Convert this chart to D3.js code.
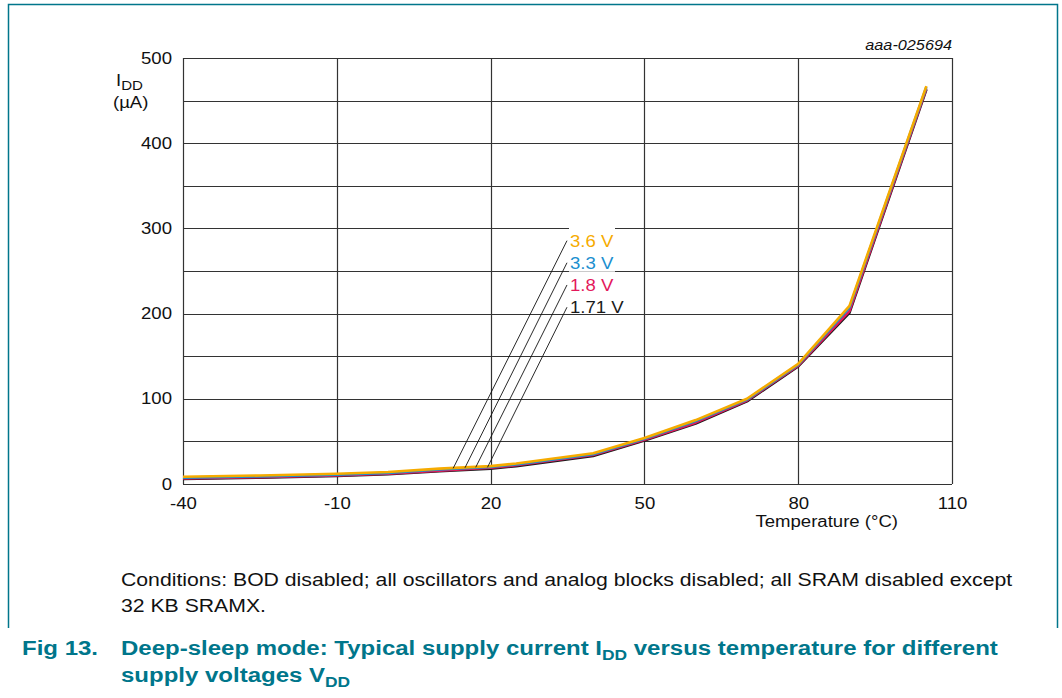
<!DOCTYPE html>
<html>
<head>
<meta charset="utf-8">
<script src="https://cdn.jsdelivr.net/npm/d3@7"></script>
<style>
  body { margin: 0; background: #fff; }
  svg text { font-family: "Liberation Sans", Arial, sans-serif; }
</style>
</head>
<body>
<svg id="main-svg" width="1062" height="698"></svg>
<script>
// temperature breakpoints (°C)
var temps = [-40, -25, -10, 0, 10, 20, 25, 40, 50, 60, 70, 80, 90, 105];

// IDD (uA) per supply voltage
var idd171 = [6, 7.5, 9.5, 11.5, 15, 18, 21, 33, 51, 71, 97, 138, 201, 463];
var idd18  = [6.5, 8, 10, 12, 15.5, 19, 22, 34, 52, 72, 98, 139, 203, 464];
var idd33  = [7.5, 9, 11, 13, 17, 20, 23, 35, 53, 74, 99, 140, 207, 466];
var idd36  = [8.5, 10, 12, 14, 18, 21, 24, 36, 54, 75, 100, 141, 209, 467];

var seriesNames = ['1.71 V', '1.8 V', '3.3 V', '3.6 V'];
var seriesColors = ['#1a1a1a', '#e3185b', '#1b8fcf', '#f6ab00'];

var xTicks = [-40, -10, 20, 50, 80, 110];
var yTicks = [0, 100, 200, 300, 400, 500];
var yGrid = [0, 50, 100, 150, 200, 250, 300, 350, 400, 450, 500];

// leader lines: [label end temp, label end value, curve temp, curve value]
var leaders = [
    [34.9, 207.5, 19.4, 19.6],
    [34.9, 233.6, 17.1, 19.6],
    [34.9, 259.7, 15.0, 19.0],
    [34.9, 285.6, 12.7, 18.4]
];

var svg = d3.select('#main-svg');
var teal = '#00768b';
var STRETCH = 1.16; // the original lettering is a bit wider than Arial

// widen a text element horizontally, keeping its anchor
function widen(sel, k) {
    sel.each(function() {
        var w = this.getComputedTextLength();
        d3.select(this).attr('textLength', w * (k || STRETCH))
            .attr('lengthAdjust', 'spacingAndGlyphs');
    });
    return sel;
}

var x = d3.scaleLinear().domain([-40, 110]).range([183, 952]);
var y = d3.scaleLinear().domain([0, 500]).range([484, 58]);

// outer frame
svg.append('path')
    .attr('d', 'M8.5,628 L8.5,4.5 L1057.5,4.5 L1057.5,628')
    .attr('fill', 'none')
    .attr('stroke', teal)
    .attr('stroke-width', 1.5);

// grid
svg.append('g').selectAll('line').data(yGrid).enter().append('line')
    .attr('x1', 183).attr('x2', 952)
    .attr('y1', function(d) { return Math.round(y(d)) + 0.5; })
    .attr('y2', function(d) { return Math.round(y(d)) + 0.5; })
    .attr('stroke', '#333').attr('stroke-width', 1.2);
svg.append('g').selectAll('line').data(xTicks).enter().append('line')
    .attr('y1', 58).attr('y2', 484)
    .attr('x1', function(d) { return Math.round(x(d)) + 0.5; })
    .attr('x2', function(d) { return Math.round(x(d)) + 0.5; })
    .attr('stroke', '#333').attr('stroke-width', 1.2);

// tick labels (d3 axes without domain/tick lines)
var fmt = function(d) { return String(d); };
var xAxis = svg.append('g').attr('transform', 'translate(0,484)')
    .call(d3.axisBottom(x).tickValues(xTicks).tickFormat(fmt).tickSize(0).tickPadding(14));
var yAxis = svg.append('g').attr('transform', 'translate(183,0)')
    .call(d3.axisLeft(y).tickValues(yTicks).tickFormat(fmt).tickSize(0).tickPadding(11));
[xAxis, yAxis].forEach(function(a) {
    a.select('.domain').remove();
    a.selectAll('text')
        .attr('font-family', '"Liberation Sans", Arial, sans-serif')
        .attr('font-size', 16).attr('fill', '#111');
    widen(a.selectAll('text'));
});

var t1 = svg.append('text').attr('x', 116).attr('y', 86)
    .attr('font-size', 16).attr('fill', '#111');
t1.append('tspan').text('I');
t1.append('tspan').text('DD').attr('font-size', 13).attr('dy', 4);
widen(t1);
widen(svg.append('text').attr('x', 113).attr('y', 108)
    .attr('font-size', 16).attr('fill', '#111').text('(µA)'));

widen(svg.append('text').attr('x', 898).attr('y', 527).attr('text-anchor', 'end')
    .attr('font-size', 16).attr('fill', '#111').text('Temperature (°C)'));

widen(svg.append('text').attr('x', 952).attr('y', 50).attr('text-anchor', 'end')
    .attr('font-size', 14).attr('font-style', 'italic').attr('fill', '#111')
    .text('aaa-025694'));

// curves
var allSeries = [idd171, idd18, idd33, idd36];
var line = d3.line()
    .x(function(d) { return x(d[0]); })
    .y(function(d) { return y(d[1]); });
allSeries.forEach(function(vals, i) {
    svg.append('path')
        .datum(temps.map(function(t, k) { return [t, vals[k]]; }))
        .attr('d', line)
        .attr('fill', 'none')
        .attr('stroke', seriesColors[i])
        .attr('stroke-width', 2.6)
        .attr('stroke-linejoin', 'round');
});

// label boxes (white, they break the grid lines), leader lines, labels
leaders.forEach(function(l, i) {
    var ty = y(l[1]);
    var top = i == 0 ? ty - 9 : ty - 13;
    var bot = i == 0 ? ty + 5 : ty + 9;
    svg.append('rect')
        .attr('x', 569).attr('y', top)
        .attr('width', i == 0 ? 55 : 46).attr('height', bot - top)
        .attr('fill', '#fff');
});
svg.append('g').selectAll('line').data(leaders).enter().append('line')
    .attr('x1', function(d) { return x(d[0]); })
    .attr('y1', function(d) { return y(d[1]); })
    .attr('x2', function(d) { return x(d[2]); })
    .attr('y2', function(d) { return y(d[3]); })
    .attr('stroke', '#111').attr('stroke-width', 0.9);
widen(svg.append('g').selectAll('text').data(leaders).enter().append('text')
    .attr('x', 570)
    .attr('y', function(d) { return y(d[1]) + 6; })
    .attr('font-size', 16)
    .attr('fill', function(d, i) { return seriesColors[i]; })
    .text(function(d, i) { return seriesNames[i]; }));

// conditions note
widen(svg.append('text').attr('x', 121).attr('y', 586).attr('font-size', 18.3).attr('fill', '#111')
    .text('Conditions: BOD disabled; all oscillators and analog blocks disabled; all SRAM disabled except'));
widen(svg.append('text').attr('x', 121).attr('y', 612).attr('font-size', 18.3).attr('fill', '#111')
    .text('32 KB SRAMX.'));

// caption
var cap = svg.append('g').attr('fill', teal).attr('font-weight', 'bold').attr('font-size', 20.7);
widen(cap.append('text').attr('x', 22).attr('y', 655).text('Fig 13.'));
var c1 = cap.append('text').attr('x', 121).attr('y', 655);
c1.append('tspan').text('Deep-sleep mode: Typical supply current I');
c1.append('tspan').text('DD').attr('font-size', 15).attr('dy', 5);
c1.append('tspan').text(' versus temperature for different').attr('dy', -5);
widen(c1);
var c2 = cap.append('text').attr('x', 121).attr('y', 682);
c2.append('tspan').text('supply voltages V');
c2.append('tspan').text('DD').attr('font-size', 15).attr('dy', 5);
widen(c2);
</script>
</body>
</html>
